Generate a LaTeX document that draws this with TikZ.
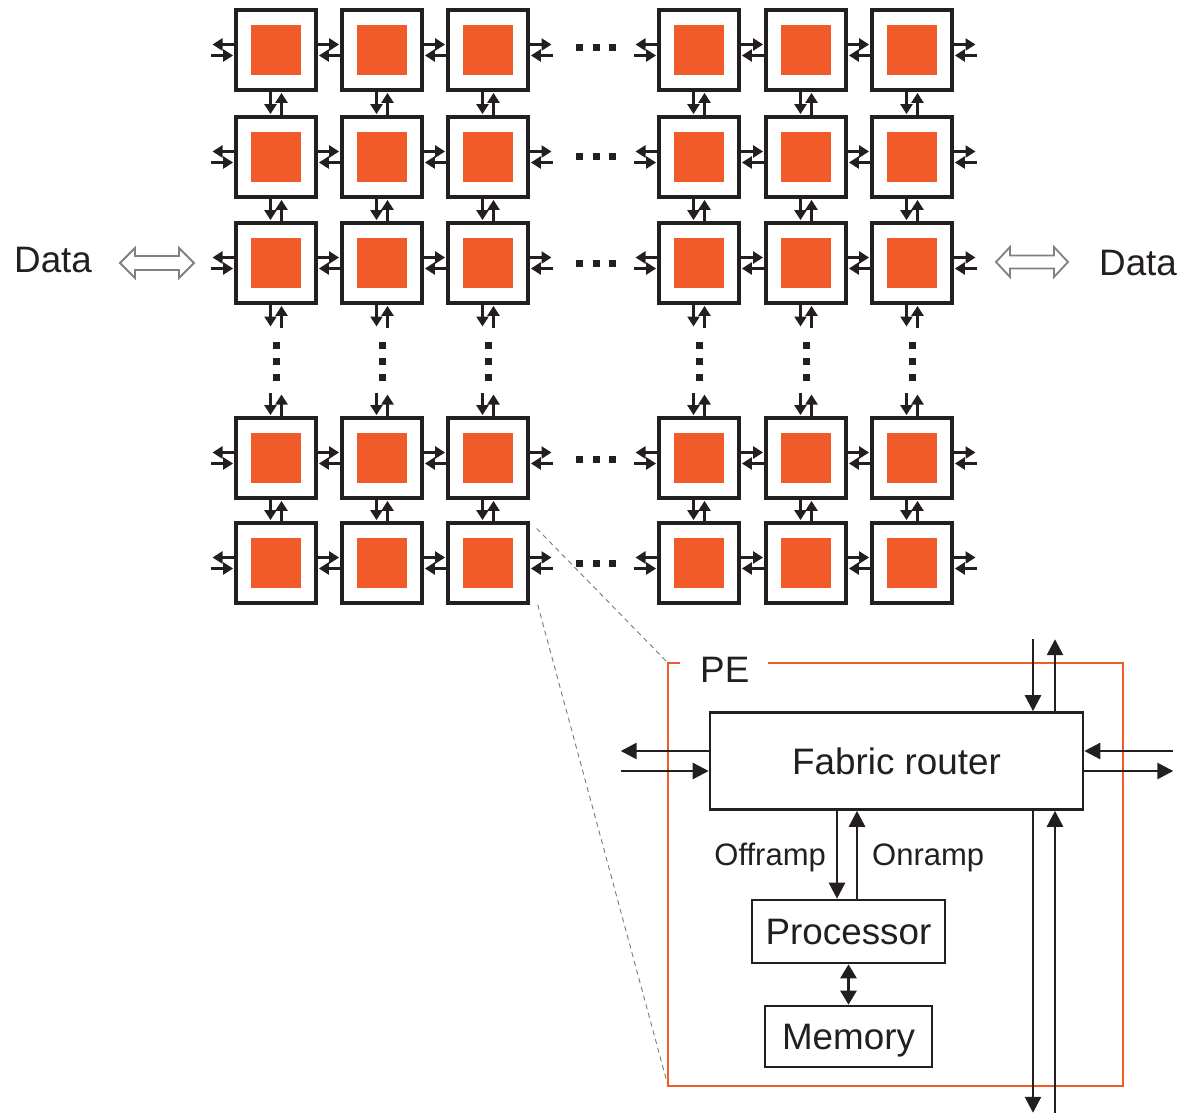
\documentclass[tikz,border=0pt]{standalone}
\usepackage{fontspec}
\setmainfont{Liberation Sans}
\usetikzlibrary{arrows.meta,calc}
\definecolor{peorange}{HTML}{F15A29}
\definecolor{ink}{HTML}{231F20}
\definecolor{outline}{HTML}{808080}
\definecolor{zoomgray}{HTML}{7A7A7A}
\tikzset{
  tile/.style={draw=ink, line width=3.4pt, fill=white, minimum size=80pt, inner sep=0pt,
    path picture={\fill[peorange]
      ([shift={(-25pt,-25pt)}]path picture bounding box.center) rectangle
      ([shift={(25pt,25pt)}]path picture bounding box.center);}},
  link/.style={draw=ink, line width=3.3pt, shorten >=1.2pt, -{Triangle[length=10pt,width=12pt]}},
  bigtext/.style={font=\fontsize{36.8}{42}\selectfont, text=ink, inner sep=0pt},
  ramptext/.style={font=\fontsize{31}{36}\selectfont, text=ink, inner sep=0pt},
  unit/.style={draw=ink, line width=2.6pt, font=\fontsize{36.8}{42}\selectfont, text=ink,
    inner sep=0pt, text height=26pt, text depth=0pt},
  wire/.style={draw=ink, line width=2.6pt, -{Triangle[length=16pt,width=16pt]}},
  wideflow/.style={draw=outline, line width=1.8pt, fill=white, line join=miter},
  peline/.style={draw=peorange, line width=2.6pt},
  zoomline/.style={draw=zoomgray, line width=0.9pt, dash pattern=on 5pt off 4pt},
}
\begin{document}
\begin{tikzpicture}[x=1pt, y=-1pt]
  \fill[white] (0,0) rectangle (1178,1113);
  \useasboundingbox (0,0) rectangle (1178,1113);

  % processing-element tiles
  \foreach \y [count=\r] in {50,157,263,458,563} {
    \foreach \x [count=\c] in {276,382,488,699,806,912} {
      \node[tile] (t-\r-\c) at (\x,\y) {};
    }
  }

  % horizontal links
  \foreach \r in {1,...,5} {
    \foreach \c in {1,4} {
      \draw[link] ([yshift=5.5pt]t-\r-\c.west) -- ++(-23pt,0);
      \draw[link] ($([yshift=-5.5pt]t-\r-\c.west)+(-23pt,0)$) -- ([yshift=-5.5pt]t-\r-\c.west);
    }
    \foreach \c in {3,6} {
      \draw[link] ([yshift=5.5pt]t-\r-\c.east) -- ++(23pt,0);
      \draw[link] ($([yshift=-5.5pt]t-\r-\c.east)+(23pt,0)$) -- ([yshift=-5.5pt]t-\r-\c.east);
    }
    \foreach \c/\d in {1/2,2/3,4/5,5/6} {
      \draw[link] ([yshift=5.5pt]t-\r-\c.east) -- ([yshift=5.5pt]t-\r-\d.west);
      \draw[link] ([yshift=-5.5pt]t-\r-\d.west) -- ([yshift=-5.5pt]t-\r-\c.east);
    }
  }

  % vertical links
  \foreach \c in {1,...,6} {
    \foreach \r/\s in {1/2,2/3,4/5} {
      \draw[link] ([xshift=-5.5pt]t-\r-\c.south) -- ([xshift=-5.5pt]t-\s-\c.north);
      \draw[link] ([xshift=5.5pt]t-\s-\c.north) -- ([xshift=5.5pt]t-\r-\c.south);
    }
    \draw[link] ([xshift=-5.5pt]t-3-\c.south) -- ++(0,-23pt);
    \draw[link] ($([xshift=5.5pt]t-3-\c.south)+(0,-23pt)$) -- ([xshift=5.5pt]t-3-\c.south);
    \draw[link] ($([xshift=-5.5pt]t-4-\c.north)+(0,23pt)$) -- ([xshift=-5.5pt]t-4-\c.north);
    \draw[link] ([xshift=5.5pt]t-4-\c.north) -- ++(0,23pt);
  }

  % ellipsis dots
  \foreach \y in {48,157,263,459,563} {
    \foreach \x in {579,596,612} {
      \fill[ink] (\x,\y) ++(-3.5pt,-3.5pt) rectangle ++(7pt,7pt);
    }
  }
  \foreach \x in {276,382,488,699,806,912} {
    \foreach \y in {345,361,377} {
      \fill[ink] (\x,\y) ++(-3.5pt,-3.5pt) rectangle ++(7pt,7pt);
    }
  }

  % data in/out
  \draw[wideflow] (120,263) -- (135,248) -- (135,256) -- (179,256) -- (179,248) -- (194,263)
    -- (179,278) -- (179,270) -- (135,270) -- (135,278) -- cycle;
  \draw[wideflow] (996,262) -- (1010,247) -- (1010,255.5) -- (1054,255.5) -- (1054,247) -- (1068,262)
    -- (1054,277) -- (1054,268.5) -- (1010,268.5) -- (1010,277) -- cycle;
  \node[bigtext, anchor=base west] (dataL) at (14,272) {Data};
  \node[bigtext, anchor=base west] (dataR) at (1099,275) {Data};

  % expanded processing element
  \coordinate (pe-nw) at (668,663);
  \coordinate (pe-sw) at (668,1086);
  \draw[zoomline, shorten <=10pt] (t-5-3.north east) -- (pe-nw);
  \draw[zoomline] ([xshift=8pt]t-5-3.south east) -- (pe-sw);
  \draw[peline] (680,663) -- (pe-nw) -- (pe-sw) -- (1123,1086) -- (1123,663) -- (768,663);
  \node[bigtext, anchor=base west] (pe) at (700,682) {PE};

  \node[unit, minimum width=373pt, minimum height=97pt] (router) at (896.5,761) {Fabric router};
  \node[unit, minimum width=193pt, minimum height=63pt] (proc) at (848.5,931.5) {Processor};
  \node[unit, minimum width=167pt, minimum height=61pt] (mem) at (848.5,1036.5) {Memory};

  % router ports
  \draw[wire] ([yshift=10pt]router.west) -- ++(-88pt,0);
  \draw[wire] ($([yshift=-10pt]router.west)+(-88pt,0)$) -- ([yshift=-10pt]router.west);
  \draw[wire] ($([yshift=10pt]router.east)+(89pt,0)$) -- ([yshift=10pt]router.east);
  \draw[wire] ([yshift=-10pt]router.east) -- ++(89pt,0);
  \draw[wire] ($([xshift=136.5pt]router.north)+(0,72pt)$) -- ([xshift=136.5pt]router.north);
  \draw[wire] ([xshift=158.5pt]router.north) -- ++(0,72pt);
  \draw[wire] ([xshift=136.5pt]router.south) -- ++(0,-302pt);
  \draw[wire] ($([xshift=158.5pt]router.south)+(0,-304pt)$) -- ([xshift=158.5pt]router.south);

  % ramps between router and processor
  \draw[wire] ([xshift=-59.5pt]router.south) -- ([xshift=-11.5pt]proc.north);
  \draw[wire] ([xshift=8.5pt]proc.north) -- ([xshift=-39.5pt]router.south);
  \node[ramptext, anchor=base east] (offl) at (826,865) {Offramp};
  \node[ramptext, anchor=base west] (onl) at (872,865) {Onramp};

  \draw[wire, {Triangle[length=14pt,width=16pt]}-{Triangle[length=14pt,width=16pt]}] (proc.south) -- (mem.north);
\end{tikzpicture}
\end{document}
